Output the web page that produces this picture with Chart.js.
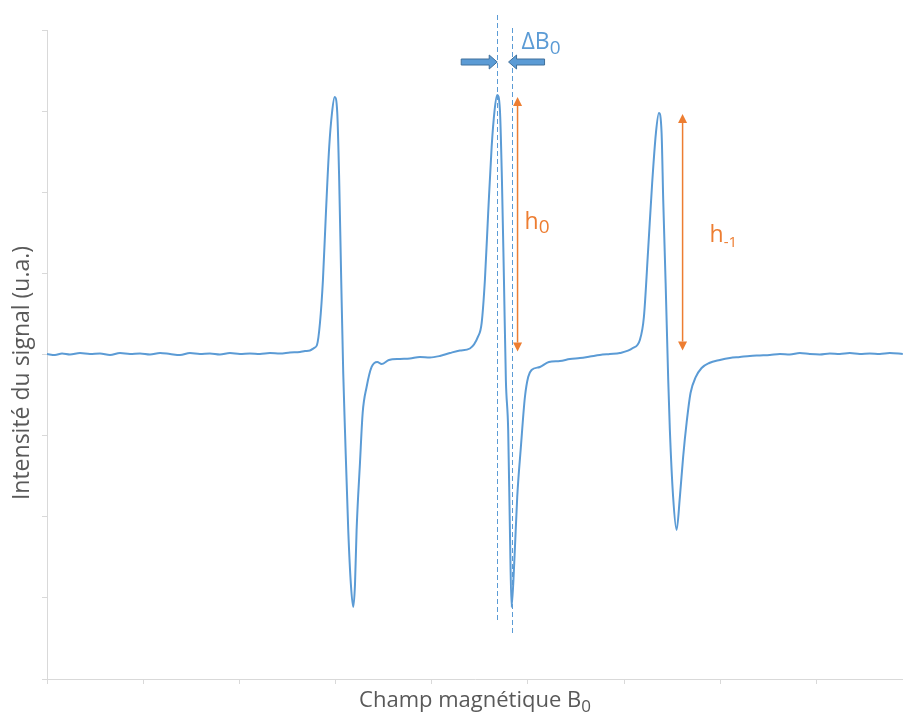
<!DOCTYPE html>
<html>
<head>
<meta charset="utf-8">
<script src="https://cdn.jsdelivr.net/npm/chart.js@4"></script>
<style>
  html, body { margin: 0; padding: 0; background: #fff; }
</style>
</head>
<body>
<canvas id="epr" width="903" height="714"></canvas>
<script>
// champ magnetique (u.a.) et intensite du signal (u.a.)
const fieldX = [
  0, 0.083, 0.156, 0.239, 0.343, 0.447, 0.551, 0.655, 0.759, 0.863,
  0.967, 1.071, 1.175, 1.279, 1.383, 1.486, 1.590, 1.694, 1.798, 1.902,
  2.006, 2.110, 2.214, 2.318, 2.422, 2.526, 2.630, 2.682, 2.734, 2.775,
  2.807, 2.838, 2.869, 2.900, 2.934, 2.963, 2.991, 3.018, 3.038, 3.059,
  3.080, 3.098, 3.132, 3.160, 3.184, 3.202, 3.219, 3.254, 3.282, 3.323,
  3.375, 3.434, 3.479, 3.555, 3.669, 3.773, 3.877, 3.981, 4.085, 4.189,
  4.293, 4.397, 4.480, 4.519, 4.553, 4.587, 4.623, 4.654, 4.681, 4.709,
  4.730, 4.751, 4.771, 4.795, 4.813, 4.830, 4.858, 4.889, 4.927, 4.969,
  5.003, 5.038, 5.125, 5.218, 5.333, 5.437, 5.541, 5.645, 5.748, 5.852,
  5.956, 6.091, 6.164, 6.206, 6.250, 6.292, 6.331, 6.362, 6.390, 6.407,
  6.432, 6.459, 6.476, 6.510, 6.546, 6.580, 6.614, 6.650, 6.691, 6.746,
  6.806, 6.885, 6.996, 7.100, 7.204, 7.308, 7.412, 7.516, 7.620, 7.724,
  7.827, 7.931, 8.035, 8.139, 8.243, 8.347, 8.451, 8.555, 8.659, 8.763,
  8.898
];
const signal = [
  0.006, -0.006, 0.012, 0, 0.018, 0.006, 0.012, -0.006, 0.018, 0.006,
  0.012, 0, 0.018, 0.006, -0.006, 0.018, 0.006, 0.012, 0, 0.018,
  0.006, 0.012, 0.006, 0.018, 0.012, 0.025, 0.031, 0.043, 0.049, 0.080,
  0.117, 0.388, 0.919, 1.744, 2.558, 2.977, 3.174, 2.977, 2.151, 0.919,
  -0.228, -0.931, -2.163, -2.841, -3.112, -2.841, -2.163, -1.337, -0.721, -0.401,
  -0.154, -0.092, -0.117, -0.068, -0.055, -0.049, -0.031, -0.037, -0.018, 0.018,
  0.049, 0.074, 0.216, 0.388, 0.919, 1.744, 2.558, 3.014, 3.199, 3.014,
  2.151, 0.919, -0.314, -0.931, -2.163, -3.112, -2.570, -1.757, -1.140, -0.524,
  -0.277, -0.191, -0.154, -0.092, -0.080, -0.055, -0.043, -0.025, -0.006, 0.006,
  0.018, 0.080, 0.179, 0.462, 1.288, 2.114, 2.730, 2.977, 2.730, 1.904,
  0.881, -0.314, -0.931, -1.757, -2.163, -1.757, -1.263, -0.844, -0.475, -0.277,
  -0.166, -0.105, -0.068, -0.043, -0.031, -0.018, -0.012, -0.006, 0.006, 0,
  0.018, 0.006, 0, 0.012, 0.006, 0.018, 0.006, 0.012, 0.006, 0.018,
  0.006
];
const xRange = [0, 8.9];
const yRange = [-4, 4];

const blue = "#5b9bd5";
const orange = "#ed7d31";
const grey = "#595959";
const axisGrey = "#d9d9d9";
const fontName = "'Open Sans', sans-serif";

// index du max (sign = 1) ou du min (sign = -1) entre deux valeurs de champ
function extremum(from, to, sign) {
  let best = -1;
  for (let i = 0; i < fieldX.length; i++) {
    if (fieldX[i] < from || fieldX[i] > to) continue;
    if (best < 0 || signal[i] * sign > signal[best] * sign) best = i;
  }
  return best;
}

// texte avec indice
function subText(ctx, main, sub, x, y, size, subSize, drop, color) {
  ctx.fillStyle = color;
  ctx.textAlign = "left";
  ctx.textBaseline = "alphabetic";
  ctx.font = size + "px " + fontName;
  ctx.fillText(main, x, y);
  const w = ctx.measureText(main).width;
  ctx.font = subSize + "px " + fontName;
  ctx.fillText(sub, x + w, y + drop);
  return w + ctx.measureText(sub).width;
}

function textWidth(ctx, main, sub, size, subSize) {
  ctx.font = size + "px " + fontName;
  let w = ctx.measureText(main).width;
  ctx.font = subSize + "px " + fontName;
  return w + ctx.measureText(sub).width;
}

// double fleche verticale orange
function heightArrow(ctx, x, yTop, yBot) {
  const head = 9, half = 4.5;
  ctx.strokeStyle = orange;
  ctx.fillStyle = orange;
  ctx.lineWidth = 1.5;
  ctx.beginPath();
  ctx.moveTo(x, yTop + head);
  ctx.lineTo(x, yBot - head);
  ctx.stroke();
  ctx.beginPath();
  ctx.moveTo(x, yTop);
  ctx.lineTo(x - half, yTop + head);
  ctx.lineTo(x + half, yTop + head);
  ctx.closePath();
  ctx.fill();
  ctx.beginPath();
  ctx.moveTo(x, yBot);
  ctx.lineTo(x - half, yBot - head);
  ctx.lineTo(x + half, yBot - head);
  ctx.closePath();
  ctx.fill();
}

// grosse fleche horizontale (dir = 1 vers la droite, -1 vers la gauche)
function blockArrow(ctx, tip, len, y, dir) {
  const shaft = 3, headH = 7, headL = 8;
  const tail = tip - dir * len;
  const neck = tip - dir * headL;
  ctx.beginPath();
  ctx.moveTo(tail, y - shaft);
  ctx.lineTo(neck, y - shaft);
  ctx.lineTo(neck, y - headH);
  ctx.lineTo(tip, y);
  ctx.lineTo(neck, y + headH);
  ctx.lineTo(neck, y + shaft);
  ctx.lineTo(tail, y + shaft);
  ctx.closePath();
  ctx.fillStyle = blue;
  ctx.fill();
  ctx.strokeStyle = "#41719c";
  ctx.lineWidth = 1;
  ctx.stroke();
}

const annotations = {
  id: "annotations",
  afterDraw(chart) {
    const ctx = chart.ctx;
    const xs = chart.scales.x;
    const ys = chart.scales.y;
    const area = chart.chartArea;

    const p2 = extremum(4, 5.5, 1);
    const t2 = extremum(4, 5.5, -1);
    const p3 = extremum(5.9, 7, 1);
    const t3 = extremum(5.9, 7, -1);

    const xPeak = xs.getPixelForValue(fieldX[p2]);
    const xTrough = xs.getPixelForValue(fieldX[t2]);
    const yBase = ys.getPixelForValue(0);

    ctx.save();

    // lignes pointillees de la raie centrale
    ctx.strokeStyle = blue;
    ctx.lineWidth = 1;
    ctx.setLineDash([5, 3]);
    ctx.beginPath();
    ctx.moveTo(Math.round(xPeak) + 0.5, 15);
    ctx.lineTo(Math.round(xPeak) + 0.5, 622);
    ctx.moveTo(Math.round(xTrough) + 0.5, 28);
    ctx.lineTo(Math.round(xTrough) + 0.5, 636);
    ctx.stroke();
    ctx.setLineDash([]);

    // largeur de raie
    blockArrow(ctx, xPeak, 36, 62, 1);
    blockArrow(ctx, xTrough - 3, 36, 62, -1);
    subText(ctx, "\u0394B", "0", xTrough + 10, 49, 23, 19, 5, blue);

    // hauteurs
    const xh0 = xs.getPixelForValue(fieldX[t2]) + 6;
    heightArrow(ctx, xh0, ys.getPixelForValue(signal[p2]) + 2, yBase - 3);
    subText(ctx, "h", "0", xh0 + 7, 229, 23, 19, 4, orange);

    const xh1 = xs.getPixelForValue(fieldX[t3]) + 6;
    heightArrow(ctx, xh1, ys.getPixelForValue(signal[p3]) + 1, yBase - 4);
    subText(ctx, "h", "-1", xh1 + 27, 242, 23, 15, 5, orange);

    // titres des axes
    const xt = "Champ magn\u00e9tique B";
    const wx = textWidth(ctx, xt, "0", 22, 17);
    subText(ctx, xt, "0", (area.left + area.right) / 2 - wx / 2, 707, 22, 17, 5, grey);

    ctx.translate(22, 373);
    ctx.rotate(-Math.PI / 2);
    ctx.fillStyle = grey;
    ctx.font = "23px " + fontName;
    ctx.textAlign = "center";
    ctx.textBaseline = "middle";
    ctx.fillText("Intensit\u00e9 du signal (u.a.)", 0, 0);

    ctx.restore();
  }
};

const points = fieldX.map((x, i) => ({ x: x, y: signal[i] }));

const ctx = document.getElementById("epr").getContext("2d");
const eprChart = new Chart(ctx, {
  type: "line",
  data: {
    datasets: [
      {
        data: points,
        borderColor: blue,
        borderWidth: 2,
        pointRadius: 0,
        cubicInterpolationMode: "monotone",
        fill: false,
      },
    ],
  },
  options: {
    responsive: false,
    animation: false,
    layout: { padding: { left: 42, right: 0, top: 30, bottom: 30 } },
    plugins: { legend: { display: false }, tooltip: { enabled: false } },
    scales: {
      x: {
        type: "linear",
        min: xRange[0],
        max: xRange[1],
        ticks: { display: false, stepSize: 1, includeBounds: false },
        grid: { drawOnChartArea: false, drawTicks: true, tickLength: 5, color: axisGrey },
        border: { color: axisGrey, width: 1 },
      },
      y: {
        type: "linear",
        min: yRange[0],
        max: yRange[1],
        ticks: { display: false, stepSize: 1 },
        grid: { drawOnChartArea: false, drawTicks: true, tickLength: 5, color: axisGrey },
        border: { color: axisGrey, width: 1 },
      },
    },
  },
  plugins: [annotations],
});
</script>
</body>
</html>
